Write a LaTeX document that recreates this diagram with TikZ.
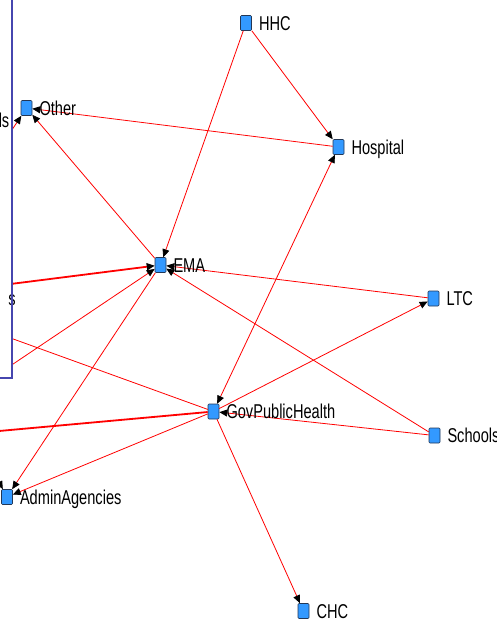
\documentclass[tikz,border=0pt]{standalone}
\usepackage{fontspec}
\usepackage{tikz}
\usetikzlibrary{arrows.meta,positioning}
\newfontfamily\netfont{Liberation Sans}
\definecolor{actorblue}{RGB}{51,153,255}
\definecolor{actorrim}{RGB}{35,55,85}
\definecolor{panelblue}{RGB}{70,70,175}
\newcommand{\actorname}[1]{\scalebox{0.73}[1]{#1}}

\begin{document}
\begin{tikzpicture}[x=1pt,y=-1pt,
  actor/.style={draw=actorrim,fill=actorblue,line width=0.6pt,rounded corners=1pt,
    minimum width=11pt,minimum height=15pt,inner sep=0pt},
  actorlabel/.style={font=\netfont\fontsize{20}{23}\selectfont,inner sep=0pt,
    text height=14.3pt,text depth=0pt},
  tie/.style={draw=red,line width=0.8pt,-{Triangle[length=8pt,width=7pt,color=black]}},
  mutualtie/.style={tie,{Triangle[length=8pt,width=7pt,color=black]}-{Triangle[length=8pt,width=7pt,color=black]}},
  strongtie/.style={tie,line width=1.8pt}]
\useasboundingbox (0.000000, 0.000000) rectangle (497.000000, 629.000000);
% Drawing actors
\node[actor] (hhc) at (246.000000, 23.000000) {};
\node[actor] (other) at (26.500000, 108.000000) {};
\node[actor] (hospital) at (338.500000, 147.000000) {};
\node[actor] (ema) at (160.500000, 265.000000) {};
\node[actor] (ltc) at (433.500000, 298.500000) {};
\node[actor] (gph) at (213.500000, 411.500000) {};
\node[actor] (schools) at (434.500000, 435.500000) {};
\node[actor] (admin) at (7.000000, 497.000000) {};
\node[actor] (chc) at (303.500000, 611.000000) {};
% actors outside the visible frame
\coordinate (offleft) at (-100.000000, 298.000000);
\coordinate (offlow) at (-100.000000, 440.000000);
% Done with actors; drawing ties
\draw[tie] (hhc) -- (ema);
\draw[tie] (hhc) -- (hospital);
\draw[tie] (hospital) -- (other);
\draw[mutualtie] (gph) -- (hospital);
\draw[tie] (ema) -- (other);
\draw[strongtie] (offleft) -- (ema);
\draw[tie] (offleft) -- (other);
\draw[tie] (offleft) -- (admin);
\draw[tie] (gph) -- (offleft);
\draw[strongtie] (gph) -- (offlow);
\draw[tie] (offlow) -- (ema);
\draw[tie] (ema) -- (admin);
\draw[tie] (gph) -- (admin);
\draw[tie] (gph) -- (ltc);
\draw[tie] (ltc) -- (ema);
\draw[tie] (schools) -- (ema);
\draw[tie] (schools) -- (gph);
\draw[tie] (gph) -- (chc);
% Done with ties; drawing labels
\node[actorlabel,right=7pt of hhc] (hhclabel) {\actorname{HHC}};
\node[actorlabel,right=7pt of other] (otherlabel) {\actorname{Other}};
\node[actorlabel,right=7pt of hospital] (hospitallabel) {\actorname{Hospital}};
\node[actorlabel,right=7pt of ema] (emalabel) {\actorname{EMA}};
\node[actorlabel,right=7pt of ltc] (ltclabel) {\actorname{LTC}};
\node[actorlabel,right=7pt of gph] (gphlabel) {\actorname{GovPublicHealth}};
\node[actorlabel,right=7pt of schools] (schoolslabel) {\actorname{Schools}};
\node[actorlabel,right=7pt of admin] (adminlabel) {\actorname{AdminAgencies}};
\node[actorlabel,right=7pt of chc] (chclabel) {\actorname{CHC}};
% Done with labels; drawing the side panel
\fill[white] (-5.000000, -5.000000) rectangle (12.000000, 378.000000);
\node[font=\netfont\fontsize{20}{23}\selectfont,inner sep=0pt,anchor=east] (lscut) at (9.500000, 120.000000) {\actorname{ls}};
\node[font=\netfont\fontsize{20}{23}\selectfont,inner sep=0pt,anchor=east] (scut) at (16.000000, 300.000000) {\actorname{s}};
\draw[panelblue,line width=2.6pt] (12.000000, -5.000000) -- (12.000000, 378.000000) -- (-5.000000, 378.000000);
% Done with panel
\end{tikzpicture}
\end{document}
